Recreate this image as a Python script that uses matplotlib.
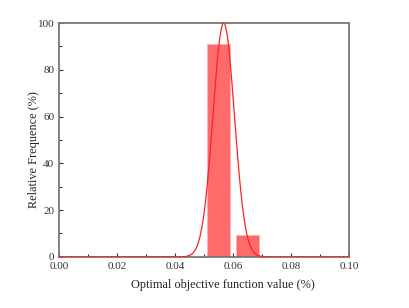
import numpy as np
import matplotlib
matplotlib.use('Agg')
import matplotlib.pyplot as plt

# histogram bins (centre of bin) and relative frequency (%)
bin_centres = [0.055, 0.065]
frequency = [91.0, 9.3]
bin_width = 0.008

# fitted normal curve parameters, scaled so the peak is 100 %
fit_mean = 0.0568
fit_sigma = 0.0037
fit_peak = 100.0

x_ticks = [0.00, 0.02, 0.04, 0.06, 0.08, 0.10]
y_ticks = [0, 20, 40, 60, 80, 100]

plt.rcParams['font.family'] = ['Liberation Serif', 'DejaVu Serif']

fig = plt.figure(figsize=(4.1, 3.08), dpi=100)
ax = fig.add_axes([0.144, 0.166, 0.707, 0.759])

ax.bar(bin_centres, frequency, width=bin_width, color='#ff6b6b',
       edgecolor='#ffb0b0', linewidth=0.6, zorder=2)

xs = np.linspace(0.0, 0.1, 600)
ys = fit_peak * np.exp(-0.5 * ((xs - fit_mean) / fit_sigma) ** 2)
ax.plot(xs, ys, color='#ff2020', linewidth=0.9, zorder=3)

ax.set_xlim(0, 0.1)
ax.set_ylim(0, 100)
ax.set_xticks(x_ticks)
ax.set_xticklabels([f'{v:.2f}' for v in x_ticks])
ax.set_yticks(y_ticks)
ax.set_xticks([0.01, 0.03, 0.05, 0.07, 0.09], minor=True)
ax.set_yticks([10, 30, 50, 70, 90], minor=True)

ax.tick_params(which='both', direction='in', colors='#333333',
               labelcolor='#333333', labelsize=8, width=0.8)
ax.tick_params(which='major', length=3)
ax.tick_params(which='minor', length=2)

for s in ax.spines.values():
    s.set_color('#777777')
    s.set_linewidth(1.3)

ax.set_xlabel('Optimal objective function value (%)', fontsize=8.8,
              color='#222222', labelpad=6)
ax.set_ylabel('Relative Frequence (%)', fontsize=8.8, color='#222222',
              labelpad=-2)
ax.xaxis.label.set_x(0.566)
ax.yaxis.label.set_y(0.457)

fig.savefig('out.png', dpi=100)
